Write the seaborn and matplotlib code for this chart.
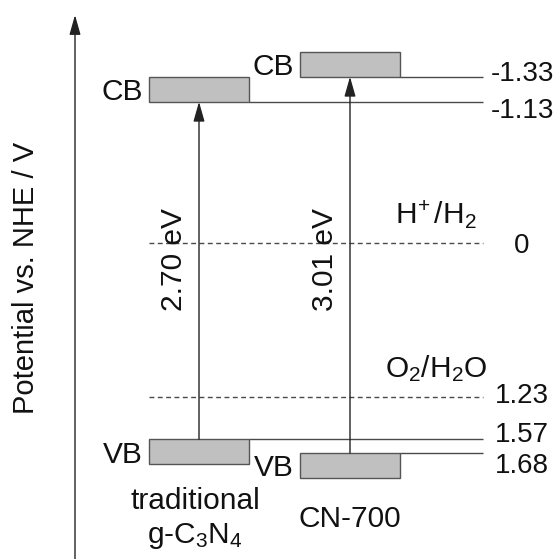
import matplotlib
matplotlib.use("Agg")
import matplotlib.pyplot as plt
import seaborn as sns

# Band-edge positions (V vs. NHE) for the two carbon nitride samples
materials = ["traditional\ng-C$_3$N$_4$", "CN-700"]
cb_edges = [-1.13, -1.33]
vb_edges = [1.57, 1.68]
band_gaps = [2.70, 3.01]

# Water-splitting redox couples
redox_names = ["H$^{\\!+}$/H$_2$", "O$_2$/H$_2$O"]
redox_potentials = [0.00, 1.23]

sns.set_theme(style="white")
plt.rcParams["font.family"] = ["Liberation Sans", "DejaVu Sans"]
plt.rcParams["mathtext.fontset"] = "custom"
plt.rcParams["mathtext.rm"] = "Liberation Sans"
plt.rcParams["mathtext.it"] = "Liberation Sans:italic"
plt.rcParams["mathtext.default"] = "regular"

W, H = 558, 559
fig = plt.figure(figsize=(W / 100, H / 100), dpi=100)
fig.patch.set_facecolor("white")
ax = fig.add_axes([0, 0, 1, 1])
ax.set_axis_off()

# Vertical scale: pixels per volt and the pixel row where 0 V sits
PPV = 125.0
ZERO_ROW = 243.0


def row(px):
    """Convert a pixel row to a potential on the inverted axis."""
    return (px - ZERO_ROW) / PPV


ax.set_xlim(0, W)
ax.set_ylim(row(H), row(0))

LINE = "#4a4a4a"
TEXT = "#111111"
FS = 21.5
FS_VAL = 20

centers = [199, 350]
box_w = 100
box_h = 25 / PPV
line_end = 483
left_edge = centers[0] - box_w / 2

# Band boxes: conduction band sits above its edge, valence band below
ax.bar(centers, [box_h] * 2, width=box_w, bottom=[c - box_h for c in cb_edges],
       color="#c0c0c0", edgecolor="#555555", linewidth=1.0, zorder=3)
ax.bar(centers, [box_h] * 2, width=box_w, bottom=vb_edges,
       color="#c0c0c0", edgecolor="#555555", linewidth=1.0, zorder=3)

# Edge level lines running to the right-hand scale
for x, cb, vb in zip(centers, cb_edges, vb_edges):
    ax.hlines([cb, vb], x + box_w / 2, line_end, color=LINE, lw=1.0, zorder=2)

# Redox potentials as dashed lines
ax.hlines(redox_potentials, left_edge, line_end, color=LINE, lw=1.0,
          linestyles=(0, (3.5, 2.5)), zorder=1)

# Excitation arrows across the gap
gap_arrow = dict(arrowstyle="-|>,head_length=0.6,head_width=0.17",
                 color="#222222", lw=1.0, mutation_scale=20,
                 shrinkA=0, shrinkB=0)
for x, cb, vb, eg in zip(centers, cb_edges, vb_edges, band_gaps):
    ax.annotate("", xy=(x, cb), xytext=(x, vb), arrowprops=gap_arrow, zorder=4)
    ax.text(x - 25, row(260), f"{eg:.2f} eV", rotation=90, ha="center",
            va="center", fontsize=FS, color=TEXT)

# Band labels beside each box
for x, cb, vb in zip(centers, cb_edges, vb_edges):
    ax.text(x - box_w / 2 - 6, cb - box_h / 2, "CB", ha="right",
            va="center_baseline", fontsize=FS, color=TEXT)
    ax.text(x - box_w / 2 - 6, vb + box_h / 2, "VB", ha="right",
            va="center_baseline", fontsize=FS, color=TEXT)

# Sample names underneath
for x, name in zip(centers, materials):
    ax.text(x - 4 if "\n" in name else x, row(519), name, ha="center",
            va="center", fontsize=FS, color=TEXT, linespacing=1.3)

# Redox couple names above their lines
for name, e in zip(redox_names, redox_potentials):
    ax.text(436, e - 28 / PPV, name, ha="center", va="center",
            fontsize=FS, color=TEXT)

# Potential values on the right, nudged apart where lines are close
levels = [cb_edges[1], cb_edges[0], redox_potentials[0],
          redox_potentials[1], vb_edges[0], vb_edges[1]]
nudges = [-6, 6, 0, -4, -7, 10]
for v, dy in zip(levels, nudges):
    label = "0" if v == 0 else f"{v:.2f}"
    ax.text(522, v + dy / PPV, label, ha="center", va="center_baseline",
            fontsize=FS_VAL, color=TEXT)

# Potential axis with arrow pointing towards negative potentials
ax.annotate("", xy=(75, row(15)), xytext=(75, row(H + 2)),
            arrowprops=dict(arrowstyle="-|>,head_length=0.6,head_width=0.17",
                            color="#222222", lw=1.0, mutation_scale=20,
                            shrinkA=0, shrinkB=0))
ax.text(26, row(278), "Potential vs. NHE / V", rotation=90, ha="center",
        va="center", fontsize=21, color=TEXT)

sns.despine(ax=ax, left=True, bottom=True)
fig.savefig("out.png", dpi=100, facecolor="white")
